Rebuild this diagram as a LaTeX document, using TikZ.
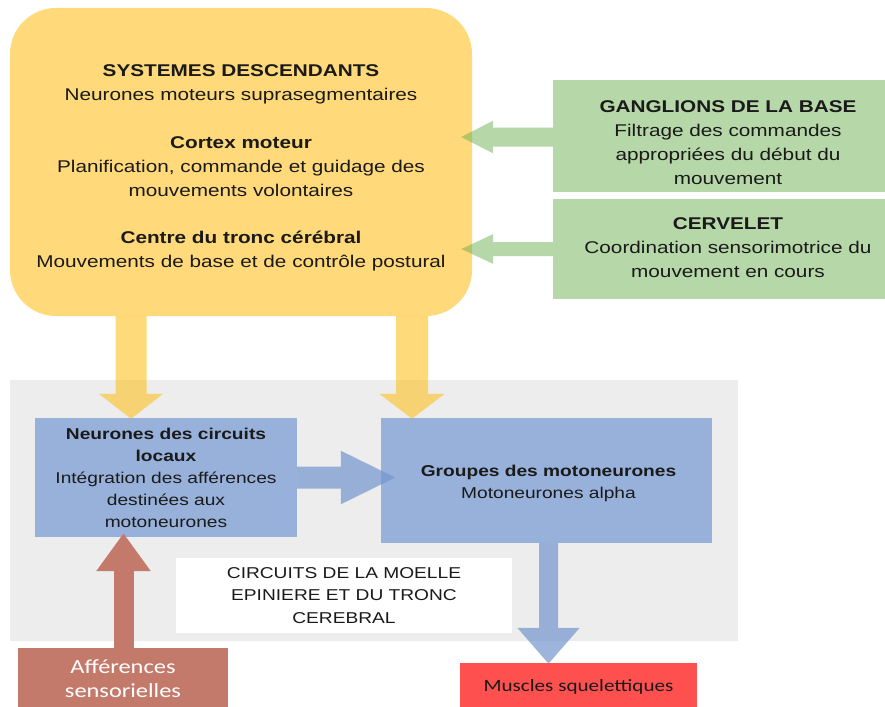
\documentclass[tikz,border=0pt]{standalone}
\usepackage{fontspec}
\setmainfont{Liberation Sans}[FakeStretch=1.22]
\newfontfamily\calib{Carlito}[FakeStretch=1.22]
\usetikzlibrary{arrows.meta,calc}
\definecolor{ybox}{HTML}{FFD97A}
\definecolor{yarr}{HTML}{FFC121}
\definecolor{gbox}{HTML}{B6D7A8}
\definecolor{garr}{HTML}{6DAF51}
\definecolor{bbox}{HTML}{98B1DB}
\definecolor{barr}{HTML}{7395CF}
\definecolor{graybg}{HTML}{EDEDED}
\definecolor{brown}{HTML}{C47A6B}
\definecolor{redbox}{HTML}{FF5050}
\definecolor{txt}{HTML}{1A1A1A}
\tikzset{
  box/.style={inner sep=0pt, align=center, text=txt},
  lbl/.style={inner sep=0pt, align=center, text=txt},
  fatarrow/.style n args={4}{draw=#1, line width=#2, -{Triangle[width=#3, length=#4, fill=#1]}},
  topfont/.style={font=\fontsize{17}{24}\selectfont},
  lowfont/.style={font=\fontsize{15.7}{22}\selectfont},
}
\begin{document}
\begin{tikzpicture}[x=1pt,y=-1pt]
\useasboundingbox (0,0) rectangle (885,706);
% background of the spinal circuits
\node[box, fill=graybg, minimum width=728pt, minimum height=261pt] (spinal) at (374,510.5) {};
% top box
\node[box, fill=ybox, rounded corners=46pt, minimum width=462pt, minimum height=308pt] (sys) at (241,162) {};
\node[lbl, topfont] (systxt) at ([yshift=-6pt]sys.center)
 {\textbf{SYSTEMES DESCENDANTS}\\
  Neurones moteurs suprasegmentaires\\[24pt]
  \textbf{Cortex moteur}\\
  Planification, commande et guidage des\\
  mouvements volontaires\\[23pt]
  \textbf{Centre du tronc cérébral}\\
  Mouvements de base et de contrôle postural};
% green boxes
\node[box, fill=gbox, minimum width=350pt, minimum height=112pt] (gang) at (728,136) {};
\node[lbl, topfont] (gangtxt) at ([yshift=-7pt]gang.center)
 {\textbf{GANGLIONS DE LA BASE}\\ Filtrage des commandes\\ appropriées du début du\\ mouvement};
\node[box, fill=gbox, minimum width=350pt, minimum height=100pt] (cerv) at (728,249) {};
\node[lbl, topfont] (cervtxt) at ([yshift=1pt]cerv.center)
 {\textbf{CERVELET}\\ Coordination sensorimotrice du\\ mouvement en cours};
% blue boxes
\node[box, fill=bbox, minimum width=262pt, minimum height=119pt] (loc) at (166,477.5) {};
\node[lbl, lowfont] (loctxt) at ([yshift=-0.5pt]loc.center)
 {\textbf{Neurones des circuits}\\ \textbf{locaux}\\ Intégration des afférences\\ destinées aux\\ motoneurones};
\node[box, fill=bbox, minimum width=331pt, minimum height=125pt] (mot) at (546.5,480.5) {};
\node[lbl, lowfont] (mottxt) at ([yshift=-3pt,xshift=2pt]mot.center)
 {\textbf{Groupes des motoneurones}\\ Motoneurones alpha};
% white box
\node[box, font=\fontsize{15.7}{22.5}\selectfont, fill=white, minimum width=336pt, minimum height=75pt] (wbox) at (344,595.5)
 {CIRCUITS DE LA MOELLE\\ EPINIERE ET DU TRONC\\ CEREBRAL};
% bottom boxes
\node[box, fill=brown, minimum width=210pt, minimum height=64pt] (aff) at (123,680) {};
\node[lbl, font=\calib\fontsize{20}{24}\selectfont, text=white] (afftxt) at ([yshift=1pt]aff.center)
 {Afférences\\ sensorielles};
\node[box, font=\calib\fontsize{17.3}{20}\selectfont, fill=redbox, minimum width=237pt, minimum height=48pt] (musc) at (578.5,687)
 {Muscles squelettiques};
% arrows
\begin{scope}[transparency group, opacity=0.6]
\draw[fatarrow={yarr}{31pt}{63pt}{25pt}] ([xshift=-110pt]sys.south) -- ([xshift=-35pt,yshift=-1pt]loc.north);
\end{scope}
\begin{scope}[transparency group, opacity=0.6]
\draw[fatarrow={yarr}{32pt}{64pt}{25pt}] ([xshift=171pt]sys.south) -- ([xshift=-134.5pt,yshift=-1pt]mot.north);
\end{scope}
\begin{scope}[transparency group, opacity=0.5]
\draw[fatarrow={garr}{19pt}{30pt}{33pt}] ($(gang.west)+(0,1)$) -- ($(sys.east |- gang.west)+(-12,1)$);
\end{scope}
\begin{scope}[transparency group, opacity=0.5]
\draw[fatarrow={garr}{14pt}{27pt}{33pt}] (cerv.west) -- ($(sys.east |- cerv.west)+(-12,0)$);
\end{scope}
\begin{scope}[transparency group, opacity=0.7]
\draw[fatarrow={barr}{22pt}{49pt}{56pt}] (loc.east) -- ($(mot.west |- loc.east)+(16,0)$);
\end{scope}
\begin{scope}[transparency group, opacity=0.7]
\draw[fatarrow={barr}{19pt}{60pt}{36pt}] ([xshift=2pt]mot.south) -- ([xshift=-30pt,yshift=-1pt]musc.north);
\end{scope}
\draw[fatarrow={brown}{20pt}{52pt}{38pt}] ([xshift=0.5pt]aff.north) -- ([xshift=-42.5pt,yshift=4pt]loc.south);
\end{tikzpicture}
\end{document}
